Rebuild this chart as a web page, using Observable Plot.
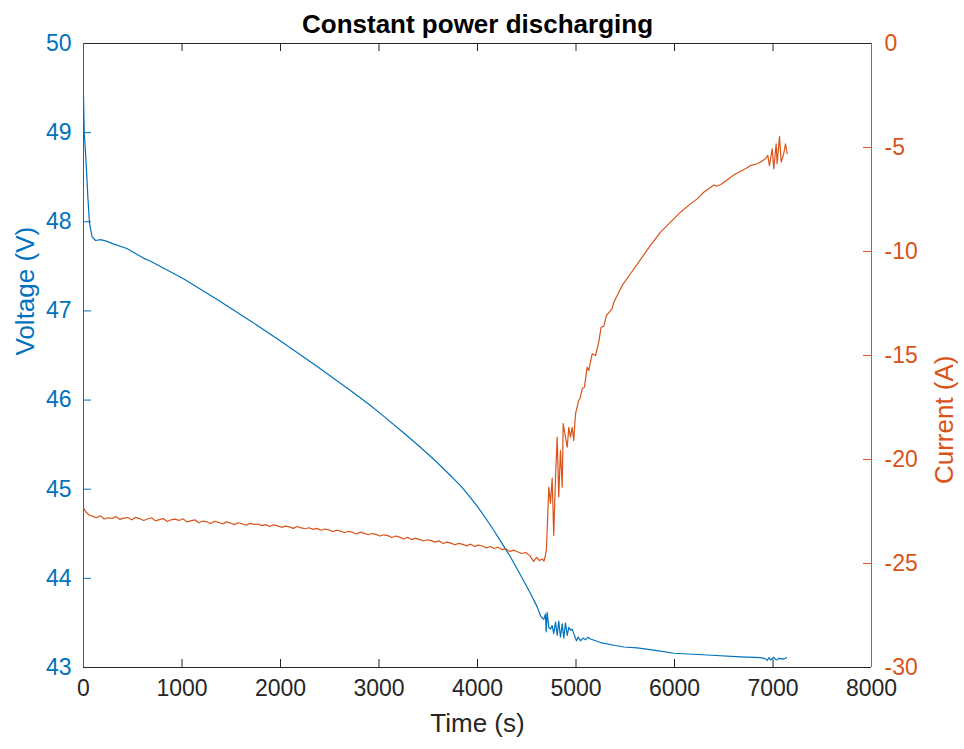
<!DOCTYPE html>
<html><head><meta charset="utf-8">
<script src="https://cdn.jsdelivr.net/npm/d3@7"></script>
<script src="https://cdn.jsdelivr.net/npm/@observablehq/plot@0.6"></script>
<style>body{margin:0;background:#fff;} #chart svg{display:block}</style>
</head><body><div id="chart"></div>
<script>
const title = "Constant power discharging";
const xLabel = "Time (s)";
const yLeftLabel = "Voltage (V)";
const yRightLabel = "Current (A)";

const xTicks = [0,1000,2000,3000,4000,5000,6000,7000,8000];
const voltTicks = [43,44,45,46,47,48,49,50];
const currTicks = [0,-5,-10,-15,-20,-25,-30];

const timeV = [0,7,27,44,61,88,122,173,240,308,440,612,677,1015,1353,1692,2030,2369,2707,2914,3046,3252,3420,3591,3720,3827,3910,3997,4080,4165,4250,4335,4400,4470,4538,4606,4640,4660,4673,4690,4697,4707,4724,4741,4758,4774,4792,4809,4825,4842,4860,4876,4893,4911,4927,4944,4961,4977,5005,5022,5046,5073,5096,5120,5147,5249,5384,5485,5621,5824,5993,6332,6670,6873,6920,6941,6958,6974,6990,7008,7025,7042,7060,7076,7093,7110,7137];
const voltage = [49.42,49.02,48.65,48.28,47.98,47.83,47.79,47.80,47.78,47.75,47.70,47.59,47.56,47.36,47.13,46.89,46.64,46.38,46.11,45.94,45.82,45.63,45.47,45.30,45.16,45.04,44.93,44.81,44.68,44.54,44.39,44.24,44.11,43.97,43.83,43.68,43.58,43.55,43.54,43.60,43.40,43.62,43.45,43.43,43.47,43.38,43.51,43.36,43.52,43.34,43.49,43.33,43.50,43.36,43.45,43.42,43.43,43.38,43.30,43.34,43.30,43.33,43.31,43.34,43.32,43.28,43.25,43.23,43.22,43.19,43.16,43.14,43.12,43.11,43.10,43.08,43.11,43.085,43.10,43.115,43.09,43.085,43.105,43.095,43.10,43.095,43.11];

const timeI = [0,30,60,90,130,170,210,250,290,330,370,410,450,490,530,570,610,650,690,730,770,810,850,890,930,970,1010,1050,1090,1130,1170,1210,1250,1290,1330,1370,1410,1450,1490,1530,1570,1610,1650,1690,1730,1770,1810,1850,1890,1930,1970,2010,2050,2090,2130,2170,2210,2250,2290,2330,2370,2410,2450,2490,2530,2570,2610,2650,2690,2730,2770,2810,2850,2890,2930,2970,3010,3050,3090,3130,3170,3210,3250,3290,3330,3370,3410,3450,3490,3530,3570,3610,3650,3690,3730,3770,3810,3850,3890,3930,3970,4010,4050,4090,4130,4170,4210,4250,4290,4330,4370,4410,4450,4490,4530,4570,4600,4630,4655,4675,4690,4700,4724,4741,4758,4774,4792,4809,4825,4842,4860,4870,4893,4911,4927,4944,4961,4977,4995,5028,5039,5063,5086,5113,5130,5164,5198,5231,5255,5282,5309,5367,5384,5469,5553,5672,5756,5858,5959,6061,6162,6230,6297,6399,6430,6470,6602,6738,6771,6839,6873,6924,6947,6964,6992,7008,7032,7042,7066,7083,7109,7127,7144];
const current = [-22.34,-22.55,-22.68,-22.72,-22.80,-22.70,-22.86,-22.80,-22.83,-22.74,-22.88,-22.82,-22.79,-22.90,-22.78,-22.84,-22.93,-22.86,-22.80,-22.95,-22.89,-22.84,-22.98,-22.90,-22.87,-22.93,-22.85,-23.00,-22.95,-22.90,-23.04,-22.96,-22.99,-23.08,-22.97,-23.02,-23.10,-23.00,-23.05,-23.13,-23.04,-23.09,-23.16,-23.07,-23.12,-23.10,-23.18,-23.13,-23.22,-23.14,-23.19,-23.26,-23.20,-23.24,-23.31,-23.22,-23.29,-23.33,-23.28,-23.36,-23.31,-23.40,-23.34,-23.38,-23.47,-23.40,-23.44,-23.52,-23.45,-23.50,-23.58,-23.49,-23.55,-23.62,-23.56,-23.60,-23.68,-23.62,-23.66,-23.75,-23.68,-23.73,-23.82,-23.74,-23.85,-23.79,-23.84,-23.92,-23.86,-23.90,-23.97,-23.91,-24.04,-23.97,-24.02,-24.10,-24.03,-24.08,-24.15,-24.07,-24.18,-24.12,-24.16,-24.25,-24.18,-24.28,-24.22,-24.33,-24.30,-24.42,-24.36,-24.45,-24.52,-24.47,-24.62,-24.90,-24.70,-24.86,-24.78,-24.88,-24.60,-24.30,-21.33,-22.10,-20.90,-23.65,-20.85,-18.93,-21.80,-19.57,-21.33,-18.27,-18.93,-19.41,-18.45,-18.93,-18.45,-19.09,-17.80,-17.16,-17.08,-16.60,-16.52,-15.56,-15.72,-14.92,-15.00,-14.36,-13.64,-13.60,-13.08,-12.75,-12.44,-11.63,-11.07,-10.27,-9.71,-9.07,-8.59,-8.11,-7.71,-7.47,-7.15,-6.80,-6.86,-6.78,-6.32,-5.97,-5.87,-5.78,-5.70,-5.54,-5.38,-5.87,-5.06,-6.03,-4.82,-5.78,-4.47,-5.70,-5.30,-4.82,-5.30];

const BLUE = "#0072BD", ORANGE = "#D95319", DARK = "#262626";
const W = 964, H = 749, mL = 83, mR = 93, mT = 43, mB = 82;
const plotW = W - mL - mR, plotH = H - mT - mB, tickLen = 8;
// map current (right axis, [-30, 0]) onto voltage scale ([43, 50])
const toV = i => 50 + i * 7 / 30;
const fromV = v => Math.round((v - 50) * 30 / 7);

const vData = timeV.map((t, k) => ({t, v: voltage[k]}));
const iData = timeI.map((t, k) => ({t, i: current[k]}));

const font = "'Liberation Sans', Arial, Helvetica, sans-serif";

const chart = Plot.plot({
  width: W, height: H,
  marginLeft: mL, marginRight: mR, marginTop: mT, marginBottom: mB,
  style: {fontFamily: font, background: "#fff", overflow: "visible"},
  x: {domain: [0, 8000]},
  y: {domain: [43, 50]},
  marks: [
    Plot.line(vData, {x: "t", y: "v", stroke: BLUE, strokeWidth: 1.2}),
    Plot.line(iData, {x: "t", y: d => toV(d.i), stroke: ORANGE, strokeWidth: 1.2}),
    // inward ticks
    Plot.ruleX(xTicks, {x: d => d, stroke: DARK, insetTop: plotH - tickLen}),
    Plot.ruleX(xTicks, {x: d => d, stroke: DARK, insetBottom: plotH - tickLen}),
    Plot.ruleY(voltTicks, {y: d => d, stroke: BLUE, insetRight: plotW - tickLen}),
    Plot.ruleY(currTicks, {y: d => toV(d), stroke: ORANGE, insetLeft: plotW - tickLen}),
    // box
    Plot.ruleY([43], {stroke: DARK}),
    Plot.ruleY([50], {stroke: DARK}),
    Plot.ruleX([0], {stroke: BLUE}),
    Plot.ruleX([8000], {stroke: ORANGE}),
    // tick labels
    Plot.axisX(xTicks, {anchor: "bottom", tickSize: 0, tickPadding: 12, fontSize: 23, color: DARK, label: null, tickFormat: d => String(d)}),
    Plot.axisY(voltTicks, {anchor: "left", tickSize: 0, tickPadding: 12, fontSize: 23, color: BLUE, label: null, tickFormat: d => String(d)}),
    Plot.axisY(currTicks.map(toV), {anchor: "right", tickSize: 0, tickPadding: 13, fontSize: 23, color: ORANGE, label: null, tickFormat: v => String(fromV(v))}),
    // labels & title
    Plot.text([xLabel], {text: d => d, frameAnchor: "bottom", dy: 64, fontSize: 26, fill: DARK}),
    Plot.text([yLeftLabel], {text: d => d, frameAnchor: "left", dx: -58, rotate: -90, fontSize: 26, fill: BLUE}),
    Plot.text([yRightLabel], {text: d => d, frameAnchor: "right", dx: 73, rotate: -90, fontSize: 26, fill: ORANGE}),
    Plot.text([title], {text: d => d, frameAnchor: "top", dy: -29, fontSize: 26, fontWeight: "bold", fill: "#000"})
  ]
});
document.getElementById("chart").appendChild(chart);
</script>
</body></html>
